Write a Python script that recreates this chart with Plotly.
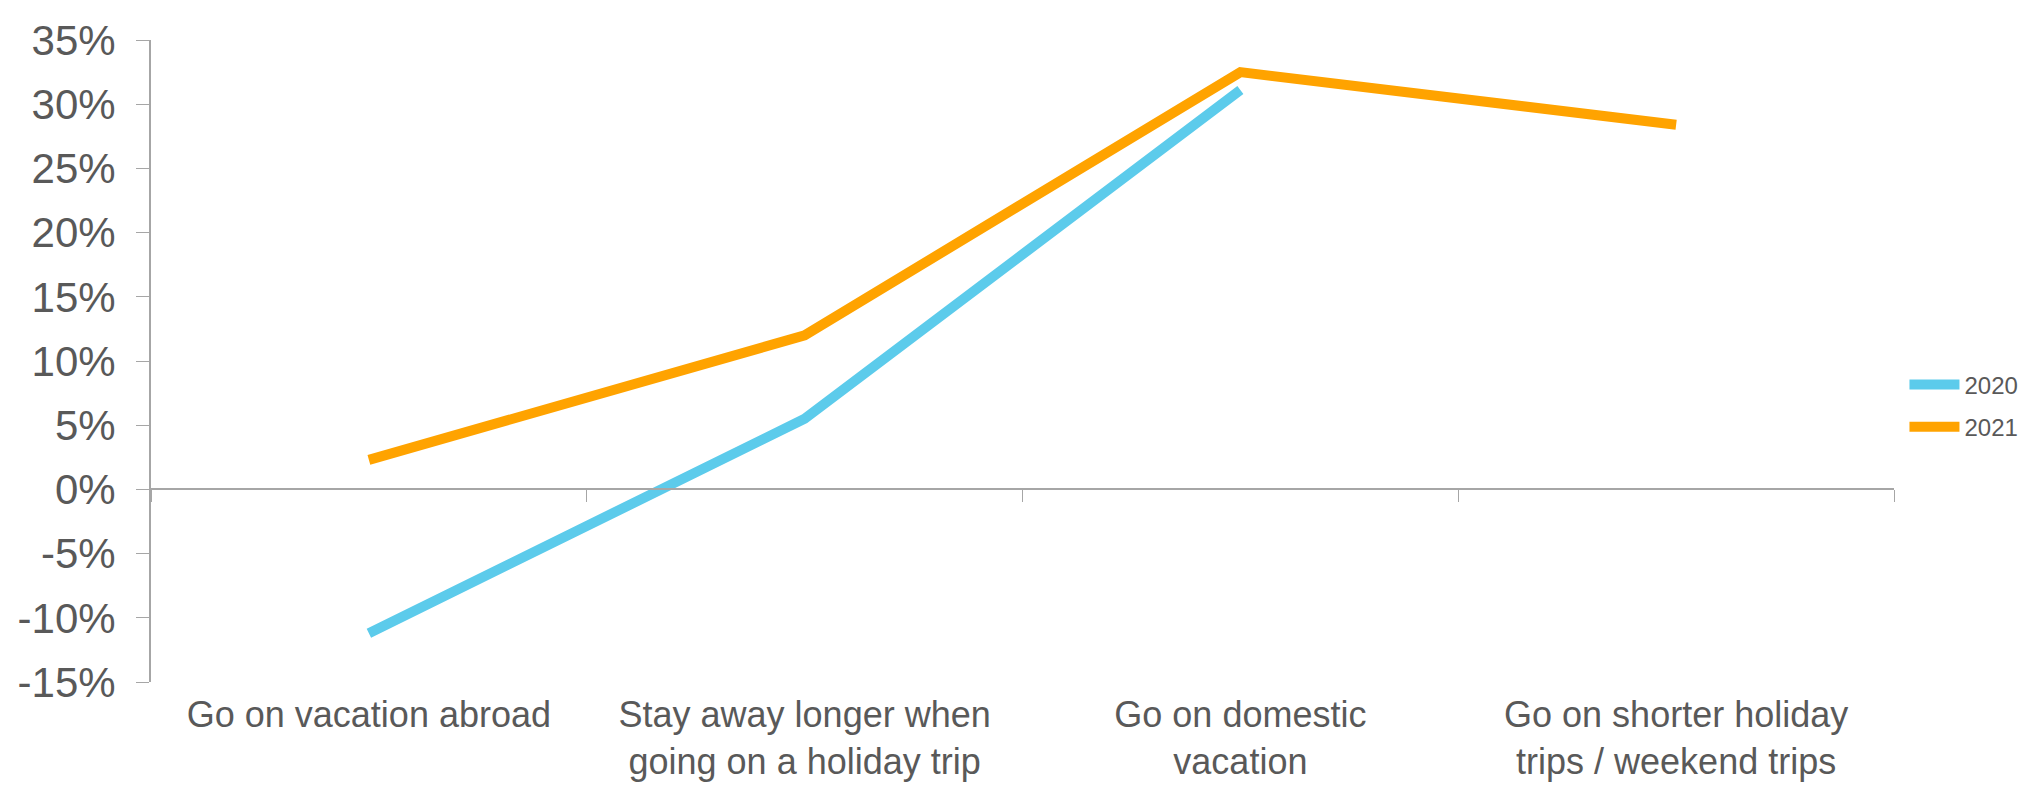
import plotly.graph_objects as go

categories = [
    "Go on vacation abroad",
    "Stay away longer when<br>going on a holiday trip",
    "Go on domestic<br>vacation",
    "Go on shorter holiday<br>trips / weekend trips",
]
series_2020 = [-11.2, 5.5, 31.1, None]
series_2021 = [2.3, 12.0, 32.5, 28.4]
y_ticks = [-15, -10, -5, 0, 5, 10, 15, 20, 25, 30, 35]
y_tick_labels = ["-15%", "-10%", "-5%", "0%", "5%", "10%", "15%", "20%", "25%", "30%", "35%"]

y_min, y_max = -15, 35
zero_pos = (0 - y_min) / (y_max - y_min)

TXT = "#595959"
AX = "#A6A6A6"
FONT = "Liberation Sans, Arial, sans-serif"

fig = go.Figure()
fig.add_trace(go.Scatter(
    x=categories, y=series_2020, name="2020", mode="lines", legendgroup="a",
    line=dict(color="#5CCBEB", width=10), connectgaps=False,
))
fig.add_trace(go.Scatter(
    x=categories, y=series_2021, name="2021", mode="lines", legendgroup="b",
    line=dict(color="#FFA300", width=10),
))
# invisible trace to carry the zero-line category axis with boundary ticks
fig.add_trace(go.Scatter(
    x=categories, y=[None] * len(categories), xaxis="x2", mode="lines",
    showlegend=False, hoverinfo="skip",
))

fig.update_layout(
    width=2036, height=785,
    margin=dict(l=143, r=150, t=32, b=111, autoexpand=False),
    paper_bgcolor="white", plot_bgcolor="white",
    font=dict(family=FONT, color=TXT, size=36),
    showlegend=True,
    legend=dict(
        x=1.006, y=0.43, xanchor="left", yanchor="middle",
        font=dict(size=24, color=TXT), bgcolor="rgba(0,0,0,0)",
        itemwidth=50, tracegroupgap=8,
    ),
    xaxis=dict(
        type="category", categoryorder="array", categoryarray=categories,
        range=[-0.5, 3.5], showgrid=False, showline=False, zeroline=False,
        ticks="", tickfont=dict(size=36, color=TXT), ticklabelstandoff=8,
        automargin=False,
    ),
    xaxis2=dict(
        type="category", categoryorder="array", categoryarray=categories,
        range=[-0.5, 3.5], overlaying="x", anchor="free", position=zero_pos,
        side="bottom", showgrid=False, showline=True, linecolor=AX, linewidth=2,
        ticks="outside", tickson="boundaries", ticklen=12, tickcolor=AX, tickwidth=1,
        showticklabels=False, zeroline=False, automargin=False,
    ),
    yaxis=dict(
        range=[y_min, y_max], tickmode="array", tickvals=y_ticks, ticktext=y_tick_labels,
        showgrid=False, zeroline=False, showline=True, linecolor=AX, linewidth=2,
        ticks="outside", ticklen=13, tickcolor=AX, tickwidth=1,
        tickfont=dict(size=42, color=TXT), ticklabelstandoff=12, automargin=False,
    ),
)

fig.write_html("out.html")
